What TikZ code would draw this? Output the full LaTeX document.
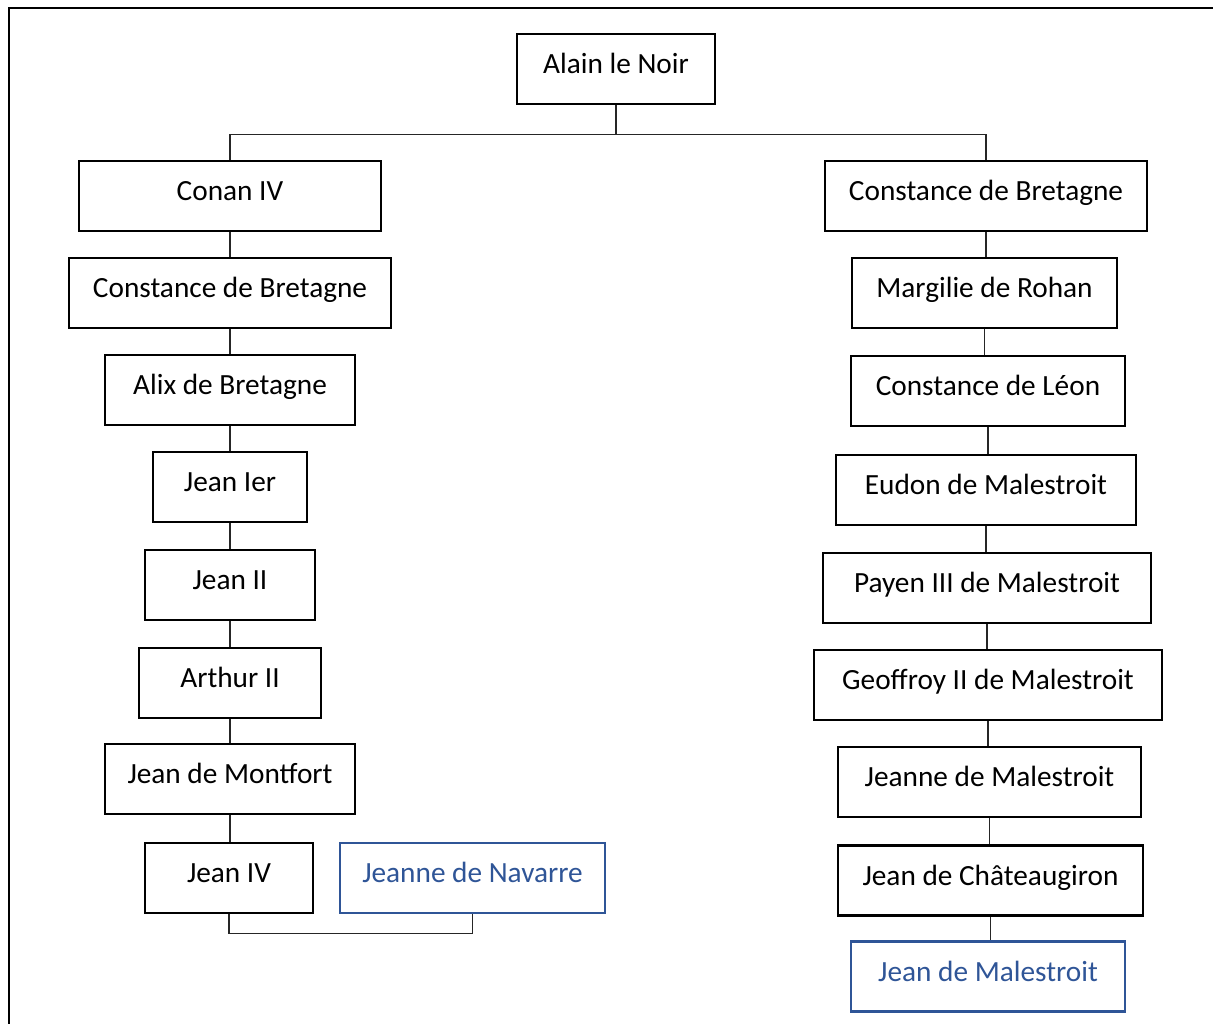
\documentclass[tikz,border=0pt]{standalone}
\usepackage{fontspec}
\setmainfont{Carlito}
\usepackage{tikz}
\usetikzlibrary{calc}
\definecolor{famblue}{HTML}{2F5597}
\tikzset{
  person/.style={draw=black, line width=2.6pt, minimum height=70pt, inner sep=0pt,
    font=\fontsize{29.3}{34}\selectfont, text height=22pt, text depth=13pt},
  spouse/.style={person, draw=famblue, text=famblue},
  link/.style={draw=black!85, line width=1.4pt}
}

\begin{document}
\begin{tikzpicture}[x=1pt, y=-1pt]
  % page 1213 x 1024, y grows downward
  \useasboundingbox (0,0) rectangle (1213,1024);
  \draw[line width=2.4pt] (9,1024) -- (9,8) -- (1213,8);

  % Root
  \node[person, minimum width=198pt] (alain) at (616,69) {Alain le Noir};

  % Left line
  \node[person, minimum width=302pt] (conan)    at (230,196) {Conan IV};
  \node[person, minimum width=322pt] (constL)   at (230,293) {Constance de Bretagne};
  \node[person, minimum width=250pt] (alix)     at (230,390) {Alix de Bretagne};
  \node[person, minimum width=154pt] (jeanI)    at (230,487) {Jean Ier};
  \node[person, minimum width=170pt] (jeanII)   at (230,585) {Jean II};
  \node[person, minimum width=182pt] (arthur)   at (230,683) {Arthur II};
  \node[person, minimum width=250pt] (montfort) at (230,779) {Jean de Montfort};
  \node[person, minimum width=168pt] (jeanIV)   at (229,878) {Jean IV};
  \node[spouse, minimum width=265pt] (navarre)  at (472.5,878) {Jeanne de Navarre};

  % Right line
  \node[person, minimum width=322pt] (constR)   at (986,196) {Constance de Bretagne};
  \node[person, minimum width=265pt] (margilie) at (984.5,293) {Margilie de Rohan};
  \node[person, minimum width=274pt] (leon)     at (988,391) {Constance de Léon};
  \node[person, minimum width=300pt] (eudon)    at (986,490) {Eudon de Malestroit};
  \node[person, minimum width=328pt] (payen)    at (987,588) {Payen III de Malestroit};
  \node[person, minimum width=348pt] (geoffroy) at (988,685) {Geoffroy II de Malestroit};
  \node[person, minimum width=303pt] (jeanneM)  at (989.5,782) {Jeanne de Malestroit};
  \node[person, minimum width=305pt] (chateau)  at (990.5,880.5) {Jean de Châteaugiron};
  \node[spouse, minimum width=274pt] (jeanM)    at (988,976.5) {Jean de Malestroit};

  % Bus from the root
  \coordinate (bus) at ($(alain.south)+(0,29)$);
  \draw[link] (alain.south) -- (bus);
  \draw[link] (conan.north) -- (conan.north |- bus) -- (constR.north |- bus) -- (constR.north);

  % Descent, left
  \foreach \a/\b in {conan/constL, constL/alix, alix/jeanI, jeanI/jeanII,
                     jeanII/arthur, arthur/montfort, montfort/jeanIV}
    \draw[link] (\a.south) -- (\a.south |- \b.north);

  % Descent, right
  \foreach \a/\b in {constR/margilie, margilie/leon, leon/eudon, eudon/payen,
                     payen/geoffroy, geoffroy/jeanneM, jeanneM/chateau, chateau/jeanM}
    \draw[link] (\a.south) -- (\a.south |- \b.north);

  % Marriage
  \coordinate (wed) at ($(jeanIV.south)+(0,19)$);
  \draw[link] (jeanIV.south) -- (wed) -- (navarre.south |- wed) -- (navarre.south);
\end{tikzpicture}
\end{document}
